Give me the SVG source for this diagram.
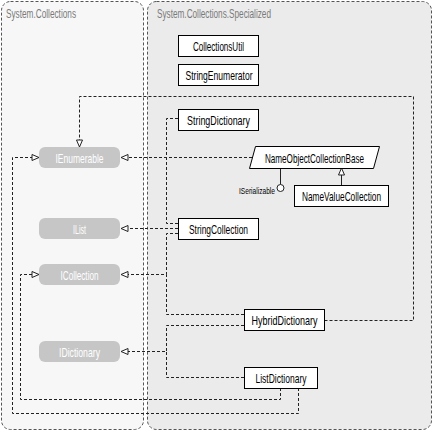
<svg xmlns="http://www.w3.org/2000/svg" width="434" height="432" viewBox="0 0 434 432">
<style>
.pkg{stroke:#555;stroke-width:1;stroke-dasharray:3,2}
.plbl{font-family:"Liberation Sans",Arial,sans-serif;font-size:13px;fill:#7a7a7a}
.box{fill:#fff;stroke:#000;stroke-width:1}
.ifc{fill:#c6c6c6;stroke:none}
.t{font-family:"Liberation Sans",Arial,sans-serif;font-size:13px;fill:#000;text-anchor:middle}
.ti{font-family:"Liberation Sans",Arial,sans-serif;font-size:13px;fill:#fff;text-anchor:middle}
.c{fill:none;stroke:#222;stroke-width:1;stroke-dasharray:3,2}
.ca{fill:none;stroke:#222;stroke-width:1;stroke-dasharray:3,2;marker-end:url(#tri)}
</style>
<defs>
<marker id="tri" markerUnits="userSpaceOnUse" markerWidth="10" markerHeight="10" refX="7" refY="3" orient="auto" overflow="visible">
<path d="M0,0 L7,3 L0,6 Z" fill="#fff" stroke="#222" stroke-width="1" stroke-dasharray="none"/>
</marker>
</defs>
<g id="pkg-collections">
<rect class="pkg" x="1.5" y="1.5" width="142" height="428" rx="9" fill="#f7f7f7"/>
<text class="plbl" x="6" y="17.5" textLength="70" lengthAdjust="spacingAndGlyphs">System.Collections</text>
</g>
<g id="pkg-specialized">
<rect class="pkg" x="147.5" y="1.5" width="284" height="428" rx="9" fill="#ebebeb"/>
<text class="plbl" x="157" y="17.5" textLength="114" lengthAdjust="spacingAndGlyphs">System.Collections.Specialized</text>
</g>
<g id="connectors">
<path class="ca" d="M324.5,320.5 H413.5 V96.5 H79.5 V147"/>
<path class="ca" d="M298.5,388 V413.5 H12.5 V157.5 H39"/>
<path class="ca" d="M280.5,388 V399.5 H20.5 V274.5 H39"/>
<path class="ca" d="M252,157.5 H121"/>
<path class="c" d="M178,118.5 H166.5 V157.5"/>
<path class="c" d="M178,223.5 H166.5 V157.5"/>
<path class="ca" d="M178,228.5 H121"/>
<path class="ca" d="M178,233.5 H166.5 V274.5 H121"/>
<path class="c" d="M244,314.5 H166.5 V274.5"/>
<path class="ca" d="M244,325.5 H166.5 V351.5 H121"/>
<path class="c" d="M244,377.5 H166.5 V351.5"/>
<path d="M341.5,185 V168" fill="none" stroke="#222" stroke-width="1" marker-end="url(#tri)"/>
<path d="M280.5,168 V184.5" fill="none" stroke="#222" stroke-width="1"/>
<circle cx="280.5" cy="188" r="3.5" fill="#fff" stroke="#222" stroke-width="1"/>
<text x="275" y="194" font-family="Liberation Sans,Arial,sans-serif" font-size="8.5" text-anchor="end" textLength="36" lengthAdjust="spacingAndGlyphs">ISerializable</text>
</g>
<g id="IEnumerable"><rect class="ifc" x="39" y="147" width="81" height="21" rx="6"/><text class="ti" x="79.5" y="162.5" textLength="48" lengthAdjust="spacingAndGlyphs">IEnumerable</text></g>
<g id="IList"><rect class="ifc" x="39" y="218" width="81" height="21" rx="6"/><text class="ti" x="79.5" y="233.5" textLength="13" lengthAdjust="spacingAndGlyphs">IList</text></g>
<g id="ICollection"><rect class="ifc" x="39" y="264" width="81" height="21" rx="6"/><text class="ti" x="79.5" y="279.5" textLength="38" lengthAdjust="spacingAndGlyphs">ICollection</text></g>
<g id="IDictionary"><rect class="ifc" x="39" y="341" width="81" height="21" rx="6"/><text class="ti" x="79.5" y="356.5" textLength="41" lengthAdjust="spacingAndGlyphs">IDictionary</text></g>
<g id="CollectionsUtil"><rect class="box" x="178.5" y="35.5" width="80" height="21"/><text class="t" x="218.5" y="50.5" textLength="51" lengthAdjust="spacingAndGlyphs">CollectionsUtil</text></g>
<g id="StringEnumerator"><rect class="box" x="178.5" y="64.5" width="80" height="21"/><text class="t" x="219" y="79.5" textLength="67" lengthAdjust="spacingAndGlyphs">StringEnumerator</text></g>
<g id="StringDictionary"><rect class="box" x="178.5" y="109.5" width="80" height="21"/><text class="t" x="218.5" y="124.5" textLength="63" lengthAdjust="spacingAndGlyphs">StringDictionary</text></g>
<g id="NameObjectCollectionBase"><path class="box" d="M255.5,146.5 H379.5 L373.5,168.5 H249.5 Z"/><text class="t" x="314.5" y="162.5" textLength="99" lengthAdjust="spacingAndGlyphs">NameObjectCollectionBase</text></g>
<g id="NameValueCollection"><rect class="box" x="294.5" y="185.5" width="94" height="21"/><text class="t" x="341.5" y="200.5" textLength="79" lengthAdjust="spacingAndGlyphs">NameValueCollection</text></g>
<g id="StringCollection"><rect class="box" x="178.5" y="218.5" width="80" height="21"/><text class="t" x="218.5" y="233.5" textLength="59" lengthAdjust="spacingAndGlyphs">StringCollection</text></g>
<g id="HybridDictionary"><rect class="box" x="244.5" y="309.5" width="80" height="21"/><text class="t" x="284.5" y="324.5" textLength="66" lengthAdjust="spacingAndGlyphs">HybridDictionary</text></g>
<g id="ListDictionary"><rect class="box" x="244.5" y="367.5" width="73" height="21"/><text class="t" x="281" y="382.5" textLength="51" lengthAdjust="spacingAndGlyphs">ListDictionary</text></g>
</svg>
